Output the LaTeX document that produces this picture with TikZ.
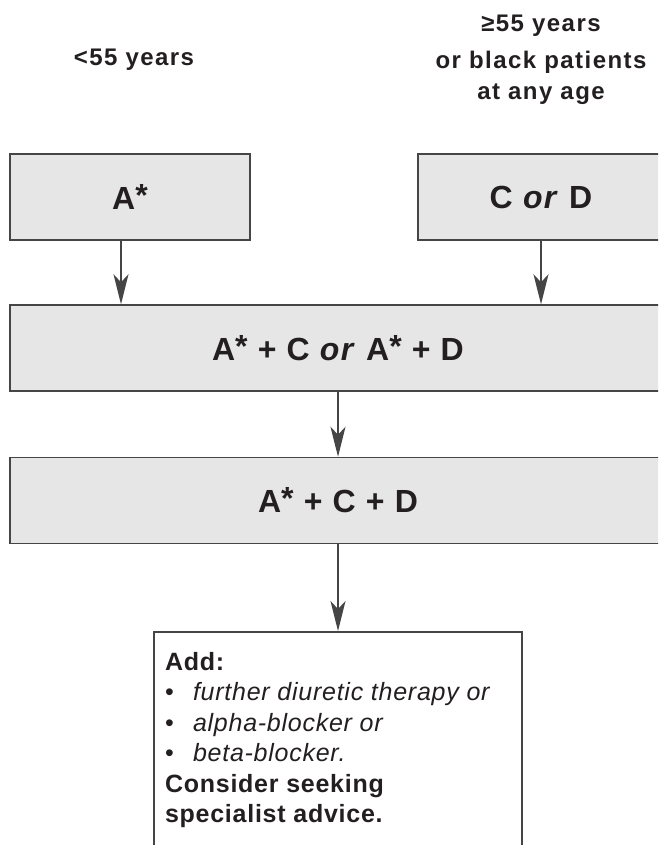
\documentclass[tikz,border=0pt]{standalone}
\usepackage{fontspec}
\setmainfont{Liberation Sans}
\usetikzlibrary{arrows.meta}
\definecolor{boxgrey}{HTML}{E6E6E6}
\definecolor{edgegrey}{HTML}{454545}
\definecolor{inkblack}{HTML}{231F20}
\newcommand\boxfont{\fontsize{32}{38}\selectfont\bfseries\addfontfeature{LetterSpace=4}}
\newcommand\labelfont{\fontsize{24}{31}\selectfont\bfseries\addfontfeature{LetterSpace=6}}
\newcommand\advicefont{\fontsize{25}{30.5}\selectfont\addfontfeature{LetterSpace=3}}
\newcommand\astar{A\raisebox{3pt}{*}}
\tikzset{
    grey-box/.style = {draw=edgegrey, fill=boxgrey, line width=1.5pt, rectangle, minimum height=86pt, inner sep=0pt, font=\boxfont, text=inkblack},
    age-label/.style = {font=\labelfont, align=center, inner sep=0pt, anchor=base, text=inkblack},
    advice-box/.style = {draw=edgegrey, fill=white, line width=1.5pt, rectangle, inner xsep=11pt, inner ysep=17pt, anchor=north, font=\advicefont, text=inkblack},
    down-arrow/.style = {draw=edgegrey, line width=1.8pt, -{Stealth[length=30pt, width=15pt, inset=8pt]}},
}
\begin{document}
\begin{tikzpicture}
\useasboundingbox (0,0) rectangle (658pt,-845pt);
\clip (0,0) rectangle (658pt,-845pt);
% age groups
\node[age-label] (young) at (134pt,-66pt) {<55 years};
\node[age-label] (old) at (541pt,-100pt) {≥55 years\\[6pt] or black patients\\ at any age};
% steps
\node[grey-box, minimum width=240pt] (astep) at (130pt,-197pt) {\astar};
\node[grey-box, minimum width=246pt] (cdstep) at (541pt,-197pt) {C \textit{or} D};
\node[grey-box, minimum width=656pt] (pairstep) at (338pt,-348pt) {\astar{} + C \textit{or} \astar{} + D};
\node[grey-box, minimum width=656pt] (triplestep) at (338pt,-500.5pt) {\astar{} + C + D};
\node[advice-box] (advice) at (338pt,-631pt) {\parbox[t][220pt][t]{346pt}{\strut\textbf{Add:}\\
    \makebox[28pt][l]{•}\textit{further diuretic therapy or}\\
    \makebox[28pt][l]{•}\textit{alpha-blocker or}\\
    \makebox[28pt][l]{•}\textit{beta-blocker.}\\
    \textbf{Consider seeking}\\
    \textbf{specialist advice.}}};
% arrows
\draw[down-arrow] ([xshift=-9pt]astep.south) -- ([xshift=-9pt]astep.south |- pairstep.north);
\draw[down-arrow] (cdstep.south) -- (cdstep.south |- pairstep.north);
\draw[down-arrow] (pairstep.south) -- (triplestep.north);
\draw[down-arrow] (triplestep.south) -- (advice.north);
\end{tikzpicture}
\end{document}
